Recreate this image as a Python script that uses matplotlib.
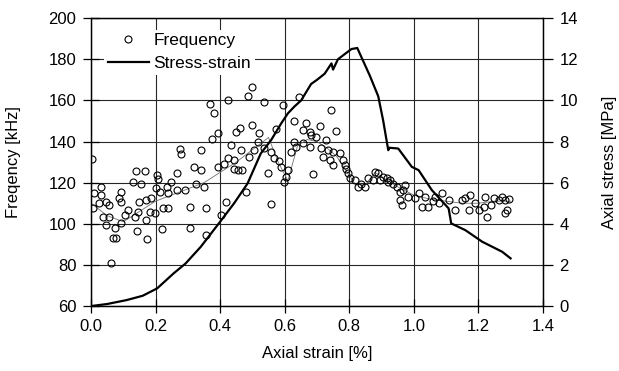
import matplotlib
matplotlib.use("Agg")
import matplotlib.pyplot as plt

plt.rcParams['font.family'] = ['Liberation Sans', 'DejaVu Sans']

# Frequency readings (strain %, kHz)
freq_strain = [0.003, 0.005, 0.01, 0.026, 0.031, 0.031, 0.036, 0.047, 0.047, 0.057,
               0.057, 0.062, 0.068, 0.073, 0.078, 0.088, 0.093, 0.093, 0.093, 0.104,
               0.114, 0.13, 0.135, 0.14, 0.143, 0.145, 0.15, 0.154, 0.167, 0.171,
               0.171, 0.174, 0.182, 0.187, 0.197, 0.202, 0.206, 0.208, 0.213, 0.219,
               0.223, 0.234, 0.239, 0.239, 0.249, 0.265, 0.268, 0.275, 0.278, 0.291,
               0.306, 0.308, 0.319, 0.324, 0.34, 0.34, 0.35, 0.355, 0.355, 0.369,
               0.376, 0.381, 0.392, 0.392, 0.402, 0.412, 0.417, 0.423, 0.425, 0.433,
               0.443, 0.443, 0.449, 0.454, 0.462, 0.464, 0.469, 0.48, 0.487, 0.49,
               0.498, 0.5, 0.506, 0.516, 0.521, 0.535, 0.537, 0.547, 0.558, 0.558,
               0.568, 0.573, 0.584, 0.589, 0.595, 0.599, 0.604, 0.61, 0.62, 0.63,
               0.63, 0.636, 0.643, 0.656, 0.656, 0.667, 0.677, 0.677, 0.682, 0.689,
               0.698, 0.708, 0.713, 0.719, 0.729, 0.734, 0.739, 0.745, 0.75, 0.75,
               0.76, 0.77, 0.781, 0.786, 0.791, 0.797, 0.802, 0.817, 0.828, 0.838,
               0.848, 0.859, 0.874, 0.879, 0.89, 0.895, 0.905, 0.916, 0.921, 0.926,
               0.937, 0.947, 0.957, 0.957, 0.963, 0.968, 0.973, 0.983, 1.004, 1.015,
               1.025, 1.035, 1.045, 1.061, 1.066, 1.077, 1.087, 1.108, 1.129, 1.15,
               1.16, 1.17, 1.175, 1.191, 1.201, 1.217, 1.222, 1.227, 1.238, 1.248,
               1.264, 1.274, 1.284, 1.284, 1.29, 1.296]
freq_khz = [131.5, 107.5, 114.8, 109.9, 118.0, 114.0, 103.1, 110.7, 99.4, 109.1,
            103.1, 81.0, 92.9, 97.8, 92.9, 112.4, 115.6, 110.7, 100.2, 104.2,
            106.7, 120.1, 103.4, 125.8, 96.6, 105.8, 110.7, 119.6, 125.8, 111.5,
            102.1, 92.6, 105.8, 112.4, 105.4, 117.2, 123.7, 121.6, 115.6, 97.3,
            107.5, 118.0, 114.8, 107.8, 120.5, 116.4, 124.8, 136.3, 133.9, 116.4,
            108.2, 97.8, 127.7, 119.6, 135.8, 126.1, 118.0, 107.5, 94.5, 158.2,
            141.2, 153.7, 144.0, 127.7, 104.2, 129.0, 110.7, 131.8, 160.1, 138.3,
            131.0, 126.9, 144.5, 126.1, 146.4, 135.8, 126.1, 115.3, 162.1, 132.6,
            166.3, 148.0, 135.8, 139.9, 144.0, 159.0, 136.7, 124.5, 135.0, 109.6,
            131.8, 145.9, 130.6, 127.7, 157.7, 120.5, 122.9, 126.1, 135.0, 150.1,
            139.9, 137.5, 161.7, 145.6, 139.1, 148.8, 144.8, 137.5, 143.1, 124.2,
            142.0, 147.5, 136.7, 132.6, 140.7, 135.8, 131.0, 155.3, 135.0, 128.5,
            145.2, 134.2, 131.0, 128.5, 126.9, 124.5, 122.1, 121.3, 118.0, 119.6,
            118.0, 122.1, 121.3, 125.3, 124.5, 121.3, 122.9, 122.1, 120.5, 121.3,
            119.6, 118.0, 115.6, 111.5, 109.1, 116.4, 118.8, 113.2, 112.4, 114.8,
            108.3, 113.2, 108.3, 111.2, 113.2, 110.0, 114.8, 111.5, 106.7, 111.5,
            112.4, 106.7, 114.0, 110.0, 106.7, 108.3, 113.2, 103.4, 109.1, 112.4,
            111.5, 113.2, 111.5, 105.1, 106.7, 112.0]

# thin line through the lower frequency band
trend_strain = [0.0, 0.05, 0.1, 0.15, 0.2, 0.25, 0.3, 0.35, 0.4, 0.45, 0.5, 0.55,
                0.58, 0.61, 0.64, 0.67, 0.7, 0.73, 0.76, 0.79, 0.82, 0.85, 0.88,
                0.91, 0.95, 1.0, 1.05, 1.1, 1.15, 1.2, 1.25, 1.3]
trend_khz = [110, 104, 101, 106, 111, 114, 117, 120, 125, 130, 136, 142,
             130, 121, 138, 141, 140, 137, 133, 126, 119, 119, 125,
             122, 118, 114, 112, 111, 110, 110, 111, 111]

# Stress-strain curve (strain %, MPa)
ss_strain = [0.0, 0.05, 0.11, 0.16, 0.205, 0.256, 0.293, 0.34, 0.40, 0.443, 0.485,
             0.526, 0.558, 0.59, 0.61, 0.63, 0.651, 0.682, 0.70, 0.724, 0.745, 0.75,
             0.765, 0.79, 0.807, 0.825, 0.838, 0.864, 0.89, 0.905, 0.921, 0.925,
             0.952, 0.994, 1.015, 1.056, 1.108, 1.116, 1.16, 1.212, 1.274, 1.30]
ss_mpa = [0.0, 0.1, 0.29, 0.5, 0.86, 1.59, 2.07, 2.88, 4.1, 4.99, 5.96,
          7.42, 8.07, 8.9, 9.37, 9.7, 10.0, 10.8, 11.0, 11.3, 11.8, 11.5,
          12.0, 12.3, 12.5, 12.55, 12.1, 11.2, 10.2, 9.04, 7.58, 7.7,
          7.66, 6.77, 6.61, 5.64, 4.75, 4.02, 3.69, 3.13, 2.64, 2.32]

fig = plt.figure(figsize=(6.19, 3.71), dpi=100)
ax = fig.add_axes([0.147, 0.175, 0.73, 0.776])
ax2 = ax.twinx()

ax.plot(trend_strain, trend_khz, color='0.45', lw=0.6, zorder=2)
ax.plot(freq_strain, freq_khz, 'o', ms=5, mfc='none', mec='black', mew=0.8,
        zorder=3, label='Frequency')
ax2.plot(ss_strain, ss_mpa, color='black', lw=1.6, label='Stress-strain')

ax.set_xlim(0, 1.4)
ax.set_ylim(60, 200)
ax2.set_ylim(0, 14)
ax.set_xticks([0.0, 0.2, 0.4, 0.6, 0.8, 1.0, 1.2, 1.4])
ax.set_yticks(range(60, 201, 20))
ax2.set_yticks(range(0, 15, 2))
ax.grid(True, color='0.15', lw=0.8)
ax.set_axisbelow(True)

ax.tick_params(axis='y', direction='inout', length=11, width=0.9, pad=5, labelsize=12)
ax.tick_params(axis='x', direction='inout', length=10, width=0.9, pad=4, labelsize=12)
ax2.tick_params(axis='y', direction='out', length=7, width=0.9, pad=5, labelsize=12)
for a in (ax, ax2):
    for s in a.spines.values():
        s.set_linewidth(0.9)

ax.set_xlabel('Axial strain [%]', fontsize=12, labelpad=9)
ax.set_ylabel('Freqency [kHz]', fontsize=12, labelpad=20)
ax2.set_ylabel('Axial stress [MPa]', fontsize=12, labelpad=17)

h1, l1 = ax.get_legend_handles_labels()
h2, l2 = ax2.get_legend_handles_labels()
ax2.legend(h1 + h2, l1 + l2, loc='upper left', bbox_to_anchor=(0.01, 0.99),
           fontsize=12.5, frameon=True, fancybox=False, edgecolor='none',
           facecolor='white', framealpha=1, handlelength=2.4,
           borderpad=0.2, labelspacing=0.45, handletextpad=0.25)

fig.savefig('out.png', dpi=100)
